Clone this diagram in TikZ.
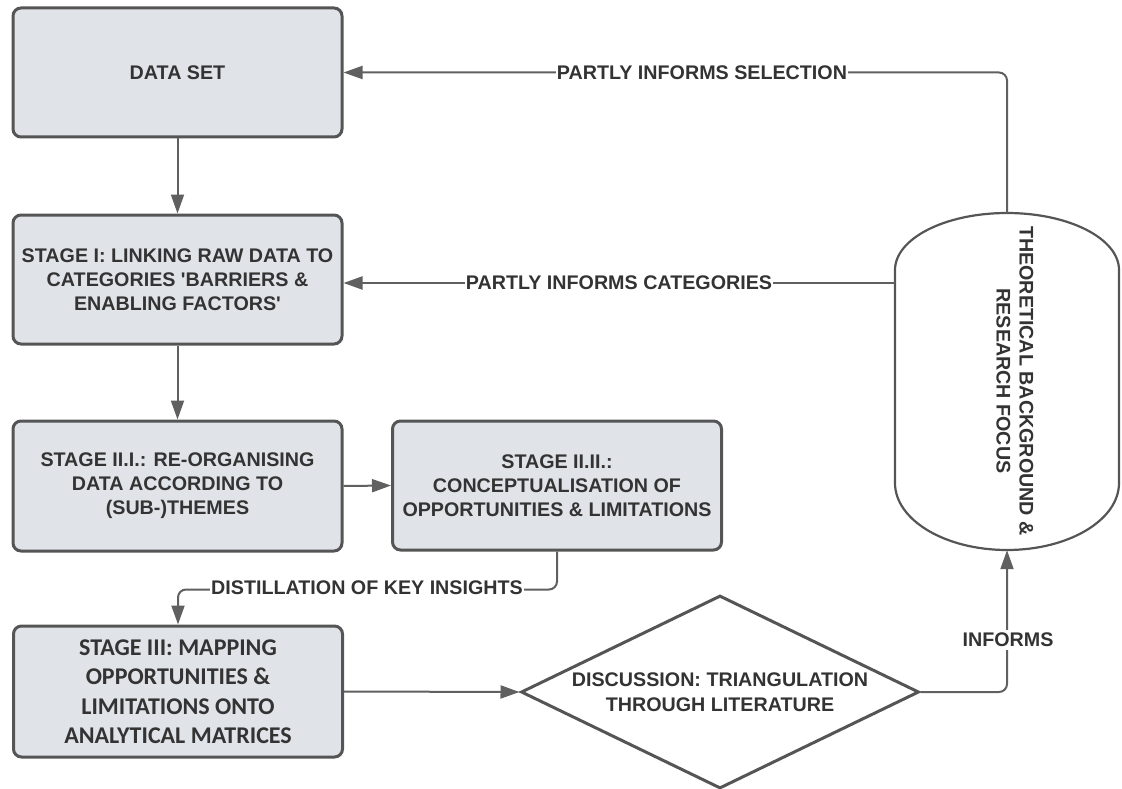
\documentclass[tikz,border=0pt]{standalone}
\usepackage{fontspec}
\setmainfont{Liberation Sans}[Ligatures=TeXOff]
\newfontfamily\calfont{Carlito}
\usetikzlibrary{shapes.geometric,arrows.meta}
\definecolor{boxfill}{HTML}{E0E3E8}
\definecolor{edgec}{HTML}{555555}
\definecolor{connc}{HTML}{606060}
\definecolor{txtc}{HTML}{333333}
\begin{document}
\begin{tikzpicture}[x=1pt,y=-1pt,
  box/.style={draw=edgec, line width=3pt, fill=boxfill, rounded corners=8pt,
    minimum width=329pt, inner sep=0pt, align=center, text=txtc,
    font=\fontsize{19.7}{24}\selectfont\bfseries},
  arr/.style={draw=connc, line width=2pt, rounded corners=8pt,
    -{Triangle[length=19pt,width=13pt]}},
  lbl/.style={fill=white, inner sep=1pt, text=txtc,
    font=\fontsize{19.7}{24}\selectfont\bfseries}]
\useasboundingbox (0,0) rectangle (1122,789);

% boxes
\node[box, minimum height=129pt] (ds) at (177.5,72.5) {DATA SET};
\node[box, minimum height=129pt] (s1) at (177.5,279.5)
  {STAGE I: LINKING RAW DATA TO\\CATEGORIES 'BARRIERS \&\\ENABLING FACTORS'};
\node[box, minimum height=130pt] (s21) at (177.5,486)
  {STAGE II.I.: RE-ORGANISING\\DATA ACCORDING TO\\(SUB-)THEMES};
\node[box, minimum height=129pt] (s22) at (557,485.5)
  {STAGE II.II.:\\CONCEPTUALISATION OF\\OPPORTUNITIES \& LIMITATIONS};
\node[box, minimum height=131pt, font=\calfont\fontsize{24}{29.5}\selectfont\bfseries] (s3) at (178,691.5)
  {STAGE III: MAPPING\\OPPORTUNITIES \&\\LIMITATIONS ONTO\\ANALYTICAL MATRICES};

% diamond
\node[draw=edgec, line width=3pt, fill=white, diamond, aspect=2.07, inner sep=0pt,
  minimum width=398pt, minimum height=193pt, align=center, text=txtc,
  font=\fontsize{19.7}{25}\selectfont\bfseries] (disc) at (720,692)
  {DISCUSSION: TRIANGULATION\\THROUGH LITERATURE};

% cylinder-like terminal
\node[minimum width=224pt, minimum height=337pt, inner sep=0pt] (tb) at (1007,381.5) {};
\draw[draw=edgec, line width=2.2pt]
  (895,270) -- (895,483)
  arc[start angle=180, end angle=360, x radius=112pt, y radius=67pt]
  -- (1119,270)
  arc[start angle=0, end angle=180, x radius=112pt, y radius=57pt] -- cycle;
\node[rotate=-90, align=center, text=txtc, inner sep=0pt,
  font=\fontsize{19.7}{23}\selectfont\bfseries] (tbt) at (1015,381)
  {THEORETICAL BACKGROUND \&\\RESEARCH FOCUS};

% connectors
\draw[arr] (ds.south) -- (s1.north);
\draw[arr] (s1.south) -- (s21.north);
\draw[arr] (s21.east) -- (s22.west);
\draw[arr] (s22.south) -- ++(0,38) -| (s3.north);
\draw[arr] (s3.east) -- (disc.west);
\draw[arr] (disc.east) -| (tb.south);
\draw[arr] (tb.north) -- (tb.north |- ds.east) -- (ds.east);
\coordinate (s1in) at ([yshift=-3.5pt]s1.east);
\draw[arr] (tb.west |- s1in) -- (s1in);

% labels
\node[lbl] (l1) at (702,73) {PARTLY INFORMS SELECTION};
\node[lbl] (l2) at (619,283) {PARTLY INFORMS CATEGORIES};
\node[lbl] (l3) at (367,588) {DISTILLATION OF KEY INSIGHTS};
\node[lbl, inner sep=3pt] (l4) at (1008,640) {INFORMS};
\end{tikzpicture}
\end{document}
